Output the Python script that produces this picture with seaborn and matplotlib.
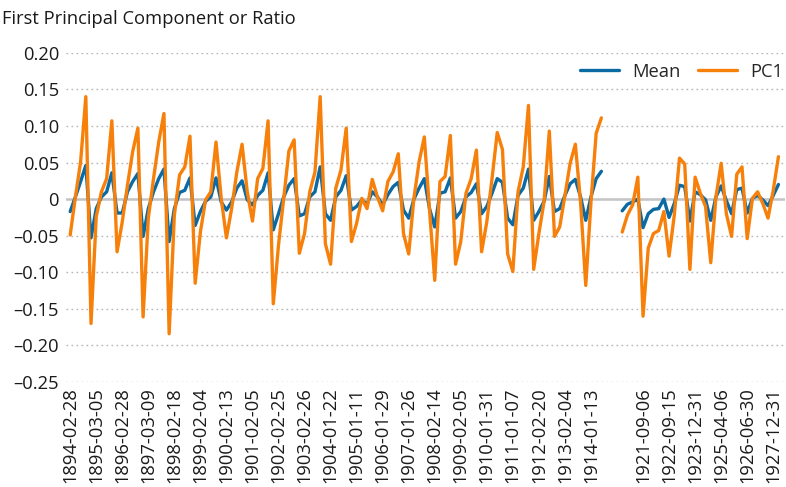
import numpy as np
import pandas as pd
import matplotlib.pyplot as plt
import seaborn as sns

# values, first block 1894-1914, second block 1921-1927
mean_a = [-0.017, 0.003, 0.024, 0.046, -0.053, -0.013, 0.003, 0.010, 0.036, -0.019,
          -0.019, 0.010, 0.024, 0.035, -0.051, -0.013, 0.010, 0.028, 0.041, -0.058,
          -0.013, 0.009, 0.012, 0.029, -0.036, -0.017, -0.003, 0.003, 0.029, -0.004,
          -0.015, -0.004, 0.015, 0.025, -0.001, -0.008, 0.005, 0.012, 0.036, -0.042,
          -0.020, 0.003, 0.019, 0.028, -0.023, -0.020, 0.003, 0.010, 0.044, -0.020,
          -0.029, 0.003, 0.012, 0.032, -0.015, -0.010, -0.001, -0.007, 0.010, 0.003,
          -0.008, 0.006, 0.017, 0.023, -0.015, -0.026, 0.000, 0.015, 0.028, -0.013,
          -0.038, 0.008, 0.010, 0.029, -0.026, -0.017, 0.003, 0.009, 0.021, -0.020,
          -0.010, 0.008, 0.028, 0.023, -0.026, -0.035, 0.005, 0.015, 0.041, -0.029,
          -0.017, -0.003, 0.031, -0.017, -0.013, 0.005, 0.021, 0.027, 0.003, -0.029,
          0.003, 0.028, 0.038]
pc1_a = [-0.049, 0.003, 0.051, 0.140, -0.170, -0.024, 0.010, 0.028, 0.107, -0.072,
         -0.031, 0.019, 0.065, 0.097, -0.161, -0.026, 0.028, 0.078, 0.117, -0.184,
         -0.022, 0.033, 0.044, 0.086, -0.115, -0.045, -0.001, 0.010, 0.078, 0.001,
         -0.053, -0.013, 0.037, 0.075, 0.010, -0.030, 0.028, 0.042, 0.107, -0.143,
         -0.063, 0.001, 0.066, 0.081, -0.074, -0.047, 0.010, 0.037, 0.140, -0.061,
         -0.089, 0.015, 0.040, 0.097, -0.058, -0.033, 0.001, -0.013, 0.027, 0.003,
         -0.016, 0.024, 0.037, 0.062, -0.047, -0.075, 0.001, 0.051, 0.085, -0.015,
         -0.111, 0.024, 0.031, 0.087, -0.089, -0.058, 0.008, 0.028, 0.067, -0.072,
         -0.031, 0.028, 0.091, 0.068, -0.075, -0.099, 0.010, 0.044, 0.128, -0.096,
         -0.047, -0.003, 0.093, -0.051, -0.038, 0.005, 0.049, 0.075, -0.004, -0.118,
         -0.004, 0.090, 0.111]
mean_b = [-0.016, -0.007, -0.004, 0.000, -0.039, -0.020, -0.014, -0.013, 0.000, -0.025,
          -0.006, 0.019, 0.017, -0.030, 0.010, 0.006, -0.001, -0.029, 0.003, 0.018,
          -0.002, -0.020, 0.013, 0.015, -0.019, 0.001, 0.005, -0.001, -0.009, 0.005,
          0.020]
pc1_b = [-0.045, -0.022, -0.008, 0.030, -0.160, -0.067, -0.047, -0.043, -0.017, -0.078,
         -0.022, 0.056, 0.048, -0.096, 0.030, 0.008, -0.010, -0.087, 0.003, 0.049,
         -0.020, -0.051, 0.034, 0.044, -0.054, 0.001, 0.010, -0.006, -0.026, 0.012,
         0.058]

labels_a = ["1894-02-28", "1895-03-05", "1896-02-28", "1897-03-09", "1898-02-18",
            "1899-02-04", "1900-02-13", "1901-02-05", "1902-02-25", "1903-02-26",
            "1904-01-22", "1905-01-11", "1906-01-29", "1907-01-26", "1908-02-14",
            "1909-02-05", "1910-01-31", "1911-01-07", "1912-02-20", "1913-02-04",
            "1914-01-13"]
labels_b = ["1921-09-06", "1922-09-15", "1923-12-31", "1925-04-06", "1926-06-30",
            "1927-12-31"]

BLUE = "#0b69a3"
ORANGE = "#f7800b"

# category positions, with a few empty slots between the two blocks
pos_a = np.arange(len(mean_a))
pos_b = np.arange(len(mean_b)) + len(mean_a) + 3

frames = []
for seg, pos, m, p in [("a", pos_a, mean_a, pc1_a), ("b", pos_b, mean_b, pc1_b)]:
    frames.append(pd.DataFrame({"pos": pos, "value": m, "series": "Mean", "segment": seg}))
    frames.append(pd.DataFrame({"pos": pos, "value": p, "series": "PC1", "segment": seg}))
df = pd.concat(frames, ignore_index=True)

sns.set_style("white")
plt.rcParams["font.family"] = ["Open Sans", "DejaVu Sans"]
FS = 13.2

fig = plt.figure(figsize=(7.86, 4.87), dpi=100)
ax = fig.add_axes([0.084, 0.2156, 0.915, 0.676])

ax.axhline(0, color="#c4c4c4", lw=1.8, zorder=1)
sns.lineplot(data=df, x="pos", y="value", hue="series", units="segment",
             estimator=None, palette={"Mean": BLUE, "PC1": ORANGE},
             hue_order=["Mean", "PC1"], linewidth=2.4, ax=ax, zorder=3)

ax.set_ylim(-0.25, 0.20)
ax.set_xlim(-0.8, 137.3)
yt = np.round(np.arange(-0.25, 0.2001, 0.05), 2)
ax.set_yticks(yt)
ax.set_yticklabels(["0" if abs(v) < 1e-9 else f"{v:.2f}".replace("-", "\u2013") for v in yt])
ax.yaxis.grid(True, linestyle=(0, (1.2, 2.4)), color="#b5b5b5", linewidth=1.0)
ax.xaxis.grid(False)

ticks = list(pos_a[::5]) + list(pos_b[4::5])
ax.set_xticks(ticks)
ax.set_xticklabels(labels_a + labels_b, rotation=90)
ax.tick_params(axis="both", length=0, labelsize=FS, colors="#1a1a1a")
ax.tick_params(axis="y", pad=5)
ax.tick_params(axis="x", pad=4)
ax.set_xlabel("")
ax.set_ylabel("")
for s in ax.spines.values():
    s.set_visible(False)

handles, labels = ax.get_legend_handles_labels()
leg = ax.legend(handles, labels, loc="upper right", bbox_to_anchor=(1.022, 1.025),
                ncol=2, frameon=False, fontsize=FS, handlelength=2.1,
                handletextpad=0.7, columnspacing=1.0, borderaxespad=0.6)
for h in leg.get_lines():
    h.set_linewidth(2.4)

fig.text(0.003, 0.962, "First Principal Component or Ratio", fontsize=FS,
         va="center", ha="left", color="#1a1a1a")

fig.savefig("out.png", dpi=100)
